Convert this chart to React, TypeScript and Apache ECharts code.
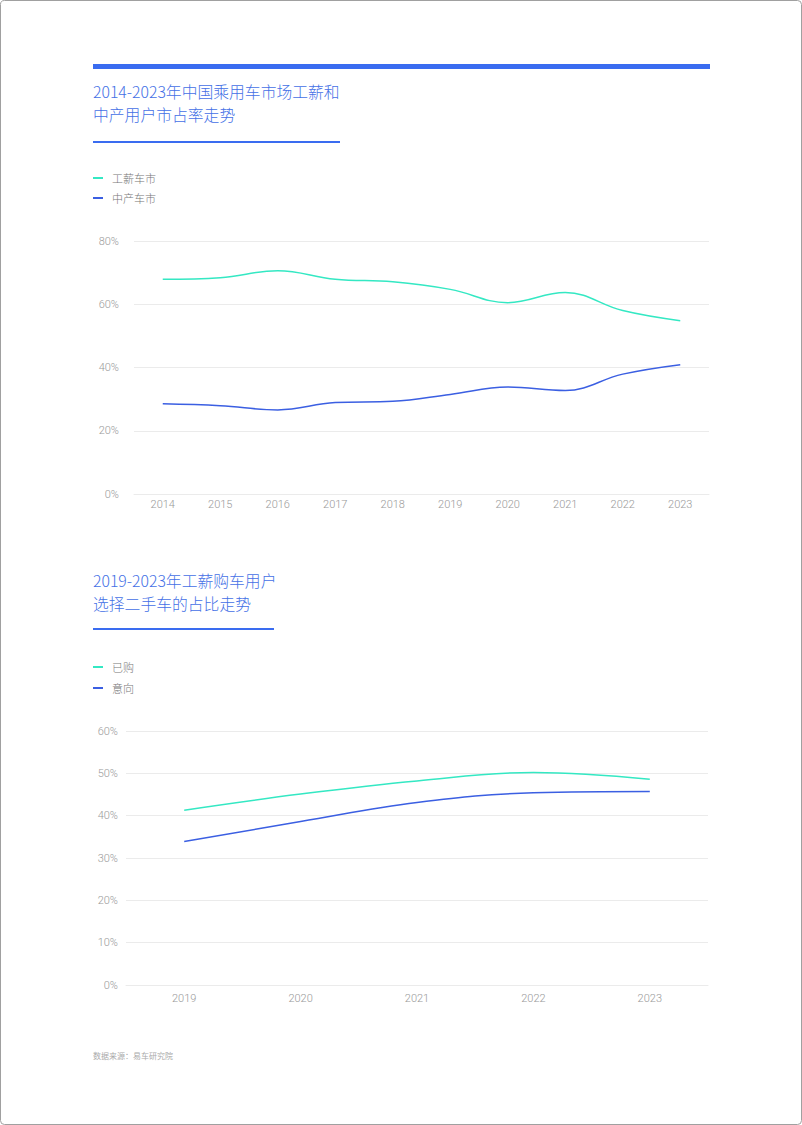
import React, { useEffect, useRef } from "react";
import * as echarts from "echarts";

const years1 = ["2014", "2015", "2016", "2017", "2018", "2019", "2020", "2021", "2022", "2023"];
const salaryMarket = [67.9, 68.4, 70.6, 67.9, 67.1, 64.7, 60.5, 63.7, 58.0, 54.8];
const middleMarket = [28.5, 27.9, 26.6, 28.9, 29.3, 31.5, 33.8, 32.7, 37.9, 40.9];

const years2 = ["2019", "2020", "2021", "2022", "2023"];
const bought = [41.3, 45.1, 48.2, 50.2, 48.6];
const intended = [33.9, 38.6, 43.1, 45.4, 45.7];

const legend1 = ["工薪车市", "中产车市"];
const legend2 = ["已购", "意向"];

const title1 = "2014-2023年中国乘用车市场工薪和\n中产用户市占率走势";
const title2 = "2019-2023年工薪购车用户\n选择二手车的占比走势";
const sourceText = "数据来源：易车研究院";

const TEAL = "#34e8c3";
const BLUE = "#3b5fe2";
const TITLE_BLUE = "#4470e6";
const FONT = "'Noto Sans CJK SC', 'Noto Sans', sans-serif";
const NUM_FONT = "Roboto, 'Noto Sans', sans-serif";

export default function App() {
  const ref = useRef<HTMLDivElement>(null);
  useEffect(() => {
    const chart = echarts.init(ref.current!, null, { renderer: "svg" });
    const axisLabel = { color: "#999", fontSize: 11, fontFamily: NUM_FONT, fontWeight: 300 };
    const split = { show: true, lineStyle: { color: "#ebebeb", width: 1 } };
    const legendText = { color: "#777", fontSize: 11, fontFamily: FONT, fontWeight: 300, lineHeight: 14, padding: [0, 0, 0, 4] };
    const titleStyle = { fontSize: 15.8, lineHeight: 23, color: TITLE_BLUE, fontWeight: 300, fontFamily: FONT };
    chart.setOption({
      animation: false,
      textStyle: { fontFamily: FONT },
      title: [
        { text: title1, left: 93, top: 80, padding: 0, textStyle: titleStyle },
        { text: title2, left: 93, top: 569, padding: 0, textStyle: titleStyle },
        { text: sourceText, left: 93, top: 1051, padding: 0,
          textStyle: { fontSize: 8, color: "#aaa", fontWeight: "normal", fontFamily: FONT } },
      ],
      graphic: [
        { type: "rect", shape: { x: 0.5, y: 0.5, width: 801, height: 1124, r: 4 },
          style: { fill: "none", stroke: "#a0a0a0", lineWidth: 1 }, silent: true },
        { type: "rect", shape: { x: 93, y: 64, width: 617, height: 5 }, style: { fill: "#3a6cf0" } },
        { type: "rect", shape: { x: 93, y: 141, width: 247, height: 2 }, style: { fill: "#3a6cf0" } },
        { type: "rect", shape: { x: 93, y: 628, width: 181, height: 2 }, style: { fill: "#3a6cf0" } },
      ],
      legend: [
        { data: legend1, orient: "vertical", left: 93, top: 171, padding: 0, itemGap: 6,
          itemWidth: 10, itemHeight: 2, icon: "rect", textStyle: legendText, selectedMode: false },
        { data: legend2, orient: "vertical", left: 93, top: 660, padding: 0, itemGap: 7,
          itemWidth: 10, itemHeight: 2, icon: "rect", textStyle: legendText, selectedMode: false },
      ],
      grid: [
        { left: 134, right: 93, top: 241, height: 253 },
        { left: 126, right: 94, top: 731, height: 254 },
      ],
      xAxis: [
        { type: "category", gridIndex: 0, data: years1, boundaryGap: true,
          axisLine: { show: true, lineStyle: { color: "#ebebeb" } }, axisTick: { show: false },
          axisLabel: { ...axisLabel, margin: 5 } },
        { type: "category", gridIndex: 1, data: years2, boundaryGap: true,
          axisLine: { show: true, lineStyle: { color: "#ebebeb" } }, axisTick: { show: false },
          axisLabel: { ...axisLabel, margin: 8 } },
      ],
      yAxis: [
        { type: "value", gridIndex: 0, min: 0, max: 80, interval: 20,
          axisLabel: { ...axisLabel, formatter: "{value}%", margin: 15 },
          splitLine: split, axisLine: { show: false }, axisTick: { show: false } },
        { type: "value", gridIndex: 1, min: 0, max: 60, interval: 10,
          axisLabel: { ...axisLabel, formatter: "{value}%", margin: 8 },
          splitLine: split, axisLine: { show: false }, axisTick: { show: false } },
      ],
      series: [
        { name: legend1[0], type: "line", xAxisIndex: 0, yAxisIndex: 0, data: salaryMarket,
          smooth: 0.4, showSymbol: false, symbol: "none", lineStyle: { color: TEAL, width: 1.5 }, itemStyle: { color: TEAL } },
        { name: legend1[1], type: "line", xAxisIndex: 0, yAxisIndex: 0, data: middleMarket,
          smooth: 0.4, showSymbol: false, symbol: "none", lineStyle: { color: BLUE, width: 1.5 }, itemStyle: { color: BLUE } },
        { name: legend2[0], type: "line", xAxisIndex: 1, yAxisIndex: 1, data: bought,
          smooth: 0.4, showSymbol: false, symbol: "none", lineStyle: { color: TEAL, width: 1.5 }, itemStyle: { color: TEAL } },
        { name: legend2[1], type: "line", xAxisIndex: 1, yAxisIndex: 1, data: intended,
          smooth: 0.4, showSymbol: false, symbol: "none", lineStyle: { color: BLUE, width: 1.5 }, itemStyle: { color: BLUE } },
      ],
    });
    return () => chart.dispose();
  }, []);
  return (
    <div ref={ref} style={{ position: "fixed", left: 0, top: 0, width: 802, height: 1125, background: "#fff" }} />
  );
}
